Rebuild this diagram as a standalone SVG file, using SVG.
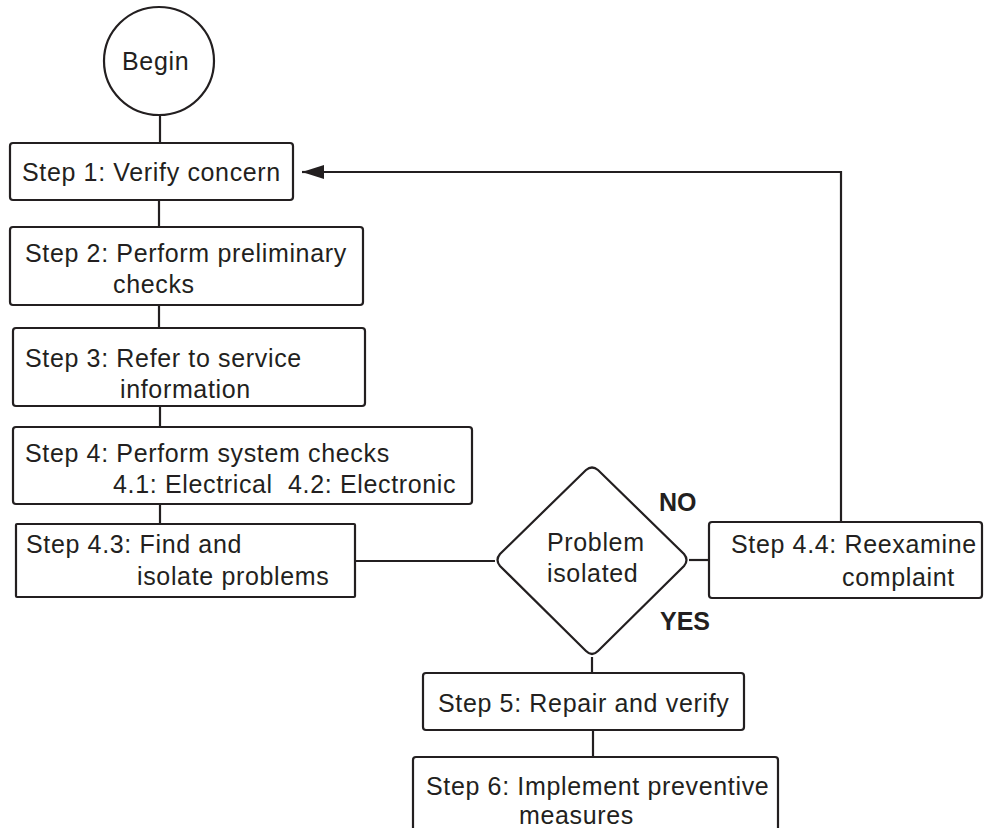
<svg xmlns="http://www.w3.org/2000/svg" width="984" height="828" viewBox="0 0 984 828">
<defs>
<style>
.box{fill:#fff;stroke:#231f20;stroke-width:2.2}
.ln{fill:none;stroke:#231f20;stroke-width:2.2}
text{font-family:"Liberation Sans",Arial,sans-serif;font-size:25px;fill:#231f20;letter-spacing:0.65px}
.b{font-weight:bold;letter-spacing:0}
</style>
<marker id="arr" viewBox="0 0 22 14" refX="22" refY="7" markerWidth="22" markerHeight="14" markerUnits="userSpaceOnUse" orient="auto">
<path d="M0,0 L22,7 L0,14 Z" fill="#231f20"/>
</marker>
</defs>
<rect width="984" height="828" fill="#fff"/>
<g id="connectors">
<line class="ln" x1="160" y1="115" x2="160" y2="143"/>
<line class="ln" x1="159" y1="200" x2="159" y2="227"/>
<line class="ln" x1="159" y1="305" x2="159" y2="328"/>
<line class="ln" x1="160" y1="406" x2="160" y2="427"/>
<line class="ln" x1="160" y1="504" x2="160" y2="524"/>
<line class="ln" x1="355" y1="561" x2="495" y2="561"/>
<line class="ln" x1="689" y1="560" x2="709" y2="560"/>
<polyline class="ln" points="841,522 841,172 324,172"/>
<line class="ln" x1="324" y1="172" x2="302" y2="172" marker-end="url(#arr)"/>
<line class="ln" x1="592" y1="657" x2="592" y2="673"/>
<line class="ln" x1="593" y1="730" x2="593" y2="757"/>
</g>
<g id="begin">
<ellipse class="box" cx="159" cy="61" rx="55" ry="54"/>
<text x="122" y="70">Begin</text>
</g>
<g id="step1">
<rect class="box" x="10" y="143" width="283" height="57" rx="3"/>
<text x="22" y="181">Step 1: Verify concern</text>
</g>
<g id="step2">
<rect class="box" x="10" y="227" width="353" height="78" rx="3"/>
<text x="25" y="262">Step 2: Perform preliminary</text>
<text x="113" y="293">checks</text>
</g>
<g id="step3">
<rect class="box" x="13" y="328" width="352" height="78" rx="3"/>
<text x="25" y="367">Step 3: Refer to service</text>
<text x="120" y="398">information</text>
</g>
<g id="step4">
<rect class="box" x="13" y="427" width="459" height="77" rx="3"/>
<text x="25" y="462">Step 4: Perform system checks</text>
<text x="113" y="493" xml:space="preserve">4.1: Electrical  4.2: Electronic</text>
</g>
<g id="step43">
<rect class="box" x="16" y="524" width="339" height="73" rx="1"/>
<text x="26" y="553">Step 4.3: Find and</text>
<text x="137" y="585">isolate problems</text>
</g>
<g id="decision">
<path class="box" d="M586,470 Q592,465 598,470 L684,554 Q689,560 684,566 L598,651 Q592,657 586,651 L500,566 Q495,560 500,554 Z"/>
<text x="547" y="551">Problem</text>
<text x="547" y="582">isolated</text>
<text class="b" x="659" y="511">NO</text>
<text class="b" x="660" y="630">YES</text>
</g>
<g id="step44">
<rect class="box" x="709" y="522" width="273" height="76" rx="3"/>
<text x="731" y="553">Step 4.4: Reexamine</text>
<text x="842" y="586">complaint</text>
</g>
<g id="step5">
<rect class="box" x="423" y="673" width="321" height="57" rx="3"/>
<text x="438" y="712">Step 5: Repair and verify</text>
</g>
<g id="step6">
<rect class="box" x="413" y="757" width="365" height="90" rx="3"/>
<text x="426" y="795">Step 6: Implement preventive</text>
<text x="519" y="824">measures</text>
</g>
</svg>
